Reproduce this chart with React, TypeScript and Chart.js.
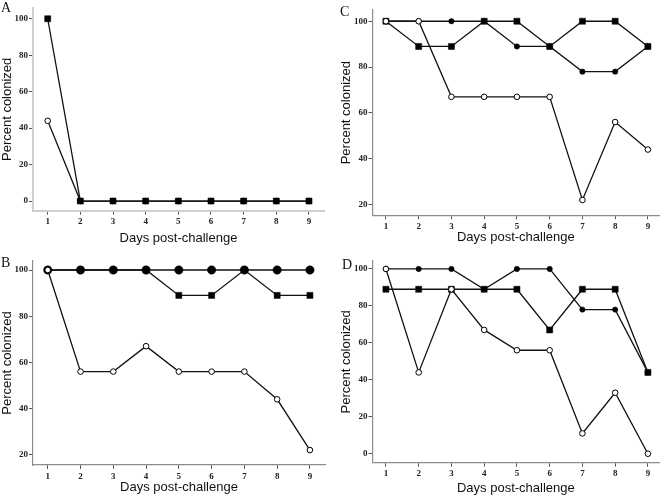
import React, { useEffect, useRef } from "react";
import { Chart, registerables } from "chart.js";

Chart.register(...registerables);

// ---- data ----
const days = [1, 2, 3, 4, 5, 6, 7, 8, 9];

const aSquares = [100, 0, 0, 0, 0, 0, 0, 0, 0];
const aOpen = [44, 0, 0, 0, 0, 0, 0, 0, 0];

const bFilled = [100, 100, 100, 100, 100, 100, 100, 100, 100];
const bSquares = [100, 100, 100, 100, 89, 89, 100, 89, 89];
const bOpen = [100, 56, 56, 67, 56, 56, 56, 44, 22];

const cFilled = [100, 100, 100, 100, 89, 89, 78, 78, 89];
const cSquares = [100, 89, 89, 100, 100, 89, 100, 100, 89];
const cOpen = [100, 100, 67, 67, 67, 67, 22, 56, 44];

const dFilled = [100, 100, 100, 89, 100, 100, 78, 78, 44];
const dSquares = [89, 89, 89, 89, 89, 67, 89, 89, 44];
const dOpen = [100, 44, 89, 67, 56, 56, 11, 33, 0];

const yTicksFrom0 = [0, 20, 40, 60, 80, 100];
const yTicksFrom20 = [20, 40, 60, 80, 100];

const xTitle = "Days post-challenge";
const yTitle = "Percent colonized";

// ---- styles ----
type Kind = "filled" | "square" | "open";
type Series = { kind: Kind; values: number[]; order: number; big?: boolean };

type Panel = {
  letter: string;
  left: number;
  top: number;
  letterX: number;
  letterY: number;
  xMin: number;
  xMax: number;
  yMin: number;
  yMax: number;
  yTicks: number[];
  yAxisW: number;
  xAxisH: number;
  padTop: number;
  padRight: number;
  axisColor: string;
  axisWidth: number;
  yTitlePad: number;
  xTitlePad: number;
  series: Series[];
};

const panels: Panel[] = [
  {
    letter: "A", left: 0, top: 0, letterX: 1, letterY: 1,
    xMin: 0.55, xMax: 9.46, yMin: -5.3, yMax: 105.9, yTicks: yTicksFrom0,
    yAxisW: 33, xAxisH: 38.3, padTop: 8, padRight: 8,
    axisColor: "#cfcfcf", axisWidth: 2, yTitlePad: 0, xTitlePad: 3.2,
    series: [
      { kind: "open", values: aOpen, order: 2 },
      { kind: "square", values: aSquares, order: 1 },
    ],
  },
  {
    letter: "B", left: 0, top: 249, letterX: 1, letterY: 7,
    xMin: 0.55, xMax: 9.46, yMin: 15.54, yMax: 103.9, yTicks: yTicksFrom20,
    yAxisW: 33, xAxisH: 33, padTop: 12, padRight: 7,
    axisColor: "#8c8c8c", axisWidth: 1.2, yTitlePad: 0, xTitlePad: 3.2,
    series: [
      { kind: "open", values: bOpen, order: 1 },
      { kind: "filled", values: bFilled, order: 2, big: true },
      { kind: "square", values: bSquares, order: 3 },
    ],
  },
  {
    letter: "C", left: 332, top: 0, letterX: 8, letterY: 5,
    xMin: 0.59, xMax: 9.345, yMin: 15.3, yMax: 104.9, yTicks: yTicksFrom20,
    yAxisW: 40.5, xAxisH: 33.7, padTop: 10, padRight: 4,
    axisColor: "#8c8c8c", axisWidth: 1.2, yTitlePad: 7, xTitlePad: 4,
    series: [
      { kind: "open", values: cOpen, order: 1 },
      { kind: "square", values: cSquares, order: 2 },
      { kind: "filled", values: cFilled, order: 3 },
    ],
  },
  {
    letter: "D", left: 332, top: 249, letterX: 10, letterY: 9,
    xMin: 0.59, xMax: 9.345, yMin: -4.86, yMax: 104.3, yTicks: yTicksFrom0,
    yAxisW: 40.5, xAxisH: 35.3, padTop: 12, padRight: 4,
    axisColor: "#8c8c8c", axisWidth: 1.2, yTitlePad: 7, xTitlePad: 1.8,
    series: [
      { kind: "open", values: dOpen, order: 1 },
      { kind: "square", values: dSquares, order: 2 },
      { kind: "filled", values: dFilled, order: 3 },
    ],
  },
];

const PANEL_W = 332;
const PANEL_H = 249;

const tickFont = { family: "'Liberation Serif', 'Times New Roman', serif", size: 9, weight: "bold" as const };
const titleFont = { family: "'Liberation Sans', Arial, Helvetica, sans-serif", size: 13 };

function datasetFor(s: Series) {
  const base: any = {
    data: days.map((d, i) => ({ x: d, y: s.values[i] })),
    borderColor: "#111",
    borderWidth: 1.3,
    tension: 0,
    order: s.order,
    pointBorderColor: "#000",
    pointHoverRadius: 0,
  };
  if (s.kind === "filled") {
    base.pointStyle = "circle";
    base.pointRadius = s.big ? 4.2 : 2.7;
    base.pointBackgroundColor = "#000";
    base.pointBorderWidth = 0.5;
  } else if (s.kind === "square") {
    base.pointStyle = "rect";
    base.pointRadius = 4.3;
    base.pointBackgroundColor = "#000";
    base.pointBorderWidth = 0.5;
  } else {
    base.pointStyle = "circle";
    base.pointRadius = 2.8;
    base.pointBackgroundColor = "#fff";
    base.pointBorderWidth = 1;
  }
  return base;
}

function PanelChart({ p }: { p: Panel }) {
  const ref = useRef<HTMLCanvasElement | null>(null);
  useEffect(() => {
    if (!ref.current) return;
    const chart = new Chart(ref.current, {
      type: "line",
      data: { datasets: p.series.map(datasetFor) },
      options: {
        responsive: false,
        animation: false,
        events: [],
        layout: { padding: { top: p.padTop, right: p.padRight, left: 0, bottom: 0 } },
        plugins: { legend: { display: false }, tooltip: { enabled: false } },
        scales: {
          x: {
            type: "linear",
            min: p.xMin,
            max: p.xMax,
            afterBuildTicks: (s: any) => {
              s.ticks = days.map((v) => ({ value: v }));
            },
            afterFit: (s: any) => {
              s.height = p.xAxisH;
            },
            ticks: { font: tickFont, color: "#222", padding: 2, maxRotation: 0, autoSkip: false },
            grid: { display: true, drawOnChartArea: false, drawTicks: true, tickLength: 4, color: "#555", lineWidth: 1 },
            border: { display: true, color: p.axisColor, width: p.axisWidth },
            title: { display: true, text: xTitle, font: titleFont, color: "#111", padding: { top: 0, bottom: p.xTitlePad } },
          },
          y: {
            type: "linear",
            min: p.yMin,
            max: p.yMax,
            afterBuildTicks: (s: any) => {
              s.ticks = p.yTicks.map((v) => ({ value: v }));
            },
            afterFit: (s: any) => {
              s.width = p.yAxisW;
            },
            ticks: { font: tickFont, color: "#222", padding: 1, autoSkip: false },
            grid: { display: true, drawOnChartArea: false, drawTicks: true, tickLength: 4, color: "#555", lineWidth: 1 },
            border: { display: true, color: p.axisColor, width: p.axisWidth },
            title: { display: true, text: yTitle, font: titleFont, color: "#111", padding: { top: p.yTitlePad, bottom: 0 } },
          },
        },
      } as any,
    });
    return () => chart.destroy();
  }, [p]);
  return (
    <div style={{ position: "absolute", left: p.left, top: p.top, width: PANEL_W, height: PANEL_H }}>
      <canvas ref={ref} width={PANEL_W} height={PANEL_H} style={{ display: "block" }} />
      <div
        style={{
          position: "absolute",
          left: p.letterX,
          top: p.letterY,
          fontFamily: "'Liberation Serif', 'Times New Roman', serif",
          fontSize: 14,
          lineHeight: "14px",
          color: "#111",
        }}
      >
        {p.letter}
      </div>
    </div>
  );
}

export default function App() {
  return (
    <div style={{ position: "absolute", left: 0, top: 0, width: 664, height: 498, background: "#fff", overflow: "hidden" }}>
      {panels.map((p) => (
        <PanelChart key={p.letter} p={p} />
      ))}
    </div>
  );
}
